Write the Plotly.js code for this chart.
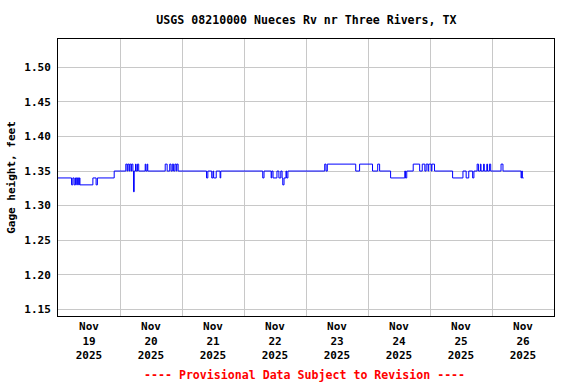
<!DOCTYPE html>
<html>
<head>
<meta charset="utf-8">
<script src="https://cdn.plot.ly/plotly-3.0.1.min.js"></script>
<style>html,body{margin:0;padding:0;background:#fff;}#chart{width:576px;height:384px;}</style>
</head>
<body>
<div id="chart"></div>
<script>
// Step change points (15-min gage height, drawn as steps)
const times = [
"2025-11-19 00:00","2025-11-19 05:15","2025-11-19 05:45","2025-11-19 06:15","2025-11-19 06:45","2025-11-19 07:15","2025-11-19 07:30","2025-11-19 08:00","2025-11-19 08:15","2025-11-19 08:30",
"2025-11-19 13:30","2025-11-19 14:45","2025-11-19 15:15","2025-11-19 21:45",
"2025-11-20 02:15","2025-11-20 02:45","2025-11-20 03:00","2025-11-20 03:30","2025-11-20 03:45","2025-11-20 04:15","2025-11-20 04:30","2025-11-20 05:00","2025-11-20 05:15","2025-11-20 05:30",
"2025-11-20 06:00","2025-11-20 06:15","2025-11-20 06:45","2025-11-20 07:15","2025-11-20 09:45","2025-11-20 10:00","2025-11-20 10:30","2025-11-20 10:45",
"2025-11-20 17:30","2025-11-20 18:15","2025-11-20 19:15","2025-11-20 19:45","2025-11-20 20:15","2025-11-20 20:45","2025-11-20 21:15","2025-11-20 21:45","2025-11-20 22:00","2025-11-20 22:30",
"2025-11-21 09:30","2025-11-21 10:00","2025-11-21 11:30","2025-11-21 12:00","2025-11-21 12:15","2025-11-21 13:15","2025-11-21 14:45","2025-11-21 15:00",
"2025-11-22 07:15","2025-11-22 07:45","2025-11-22 10:30","2025-11-22 10:45","2025-11-22 11:15","2025-11-22 12:45","2025-11-22 13:30","2025-11-22 14:15","2025-11-22 14:45","2025-11-22 15:00","2025-11-22 15:30","2025-11-22 16:15","2025-11-22 16:30","2025-11-22 17:00",
"2025-11-23 07:15","2025-11-23 07:45","2025-11-23 08:15","2025-11-23 19:15","2025-11-23 20:45",
"2025-11-24 01:45","2025-11-24 03:45","2025-11-24 04:30","2025-11-24 08:45","2025-11-24 14:15","2025-11-24 14:30","2025-11-24 15:00","2025-11-24 17:30","2025-11-24 20:00","2025-11-24 21:00","2025-11-24 22:00","2025-11-24 22:30","2025-11-24 23:15","2025-11-24 23:30",
"2025-11-25 00:30","2025-11-25 00:45","2025-11-25 01:45","2025-11-25 08:45","2025-11-25 12:45","2025-11-25 14:00","2025-11-25 15:00","2025-11-25 16:30","2025-11-25 17:00","2025-11-25 18:15","2025-11-25 18:45","2025-11-25 19:30","2025-11-25 19:45","2025-11-25 20:45","2025-11-25 21:00","2025-11-25 22:00","2025-11-25 22:15","2025-11-25 23:00","2025-11-25 23:30",
"2025-11-26 03:30","2025-11-26 04:15","2025-11-26 11:15","2025-11-26 11:30","2025-11-26 11:45","2025-11-26 12:15"
];
const gageHeight = [
1.34,1.33,1.34,1.33,1.34,1.33,1.34,1.33,1.34,1.33,
1.34,1.33,1.34,1.35,
1.36,1.35,1.36,1.35,1.36,1.35,1.36,1.35,1.32,1.35,
1.36,1.35,1.36,1.35,1.36,1.35,1.36,1.35,
1.36,1.35,1.36,1.35,1.36,1.35,1.36,1.35,1.36,1.35,
1.34,1.35,1.34,1.35,1.34,1.35,1.34,1.35,
1.34,1.35,1.34,1.35,1.34,1.35,1.34,1.35,1.34,1.33,1.34,1.35,1.34,1.35,
1.36,1.35,1.36,1.35,1.36,
1.35,1.36,1.35,1.34,1.35,1.34,1.35,1.36,1.35,1.36,1.35,1.36,1.35,1.36,
1.35,1.36,1.35,1.34,1.35,1.34,1.35,1.34,1.35,1.36,1.35,1.36,1.35,1.36,1.35,1.36,1.35,1.36,1.35,
1.36,1.35,1.34,1.35,1.34,1.34
];
const xTickVals = ["2025-11-19 12:00","2025-11-20 12:00","2025-11-21 12:00","2025-11-22 12:00","2025-11-23 12:00","2025-11-24 12:00","2025-11-25 12:00","2025-11-26 12:00"];
const xTickText = ["Nov<br>19<br>2025","Nov<br>20<br>2025","Nov<br>21<br>2025","Nov<br>22<br>2025","Nov<br>23<br>2025","Nov<br>24<br>2025","Nov<br>25<br>2025","Nov<br>26<br>2025"];
const yTickVals = [1.15,1.20,1.25,1.30,1.35,1.40,1.45,1.50];
const yTickText = ["1.15","1.20","1.25","1.30","1.35","1.40","1.45","1.50"];

const FONT = "DejaVu Sans Mono, Liberation Mono, monospace";
const trace = {
  x: times, y: gageHeight, type: "scatter", mode: "lines",
  line: {color: "#0000ff", width: 1, shape: "hv"}, hoverinfo: "skip"
};
const layout = {
  width: 576, height: 384,
  margin: {l: 58, r: 22, t: 39, b: 68},
  paper_bgcolor: "#fff", plot_bgcolor: "#fff",
  showlegend: false,
  font: {family: FONT, size: 11, color: "#000", weight: "bold"},
  title: {text: "<b>USGS 08210000 Nueces Rv nr Three Rivers, TX</b>", x: 0.532, xanchor: "center", y: 0.948, yanchor: "middle",
          font: {family: FONT, size: 11.6, color: "#000"}},
  xaxis: {
    type: "date", range: ["2025-11-19 00:00", "2025-11-27 00:00"],
    tickmode: "array", tickvals: xTickVals, ticktext: xTickText,
    showgrid: false, ticks: "", zeroline: false,
    tickfont: {family: FONT, size: 11, color: "#000", weight: "bold"},
    minor: {tickmode: "linear", tick0: "2025-11-19 00:00", dtick: 86400000, showgrid: true, gridcolor: "#c8c8c8", gridwidth: 1, ticks: ""},
    showline: true, mirror: true, linecolor: "#000", linewidth: 1,
    fixedrange: true
  },
  yaxis: {
    range: [1.1403, 1.541],
    tickmode: "array", tickvals: yTickVals, ticktext: yTickText,
    showgrid: true, gridcolor: "#c8c8c8", gridwidth: 1, zeroline: false, ticks: "",
    ticklabelstandoff: 4,
    tickfont: {family: FONT, size: 11, color: "#000", weight: "bold"},
    title: {text: "<b>Gage height, feet</b>", font: {family: FONT, size: 11, color: "#000"}, standoff: 6},
    showline: true, mirror: true, linecolor: "#000", linewidth: 1,
    fixedrange: true
  },
  annotations: [{
    text: "<b>---- Provisional Data Subject to Revision ----</b>",
    xref: "paper", yref: "paper", x: 0.497, y: -0.212, xanchor: "center", yanchor: "middle",
    showarrow: false, font: {family: FONT, size: 11.6, color: "#ff0000"}
  }]
};
Plotly.newPlot("chart", [trace], layout, {staticPlot: true, displayModeBar: false});
</script>
</body>
</html>
